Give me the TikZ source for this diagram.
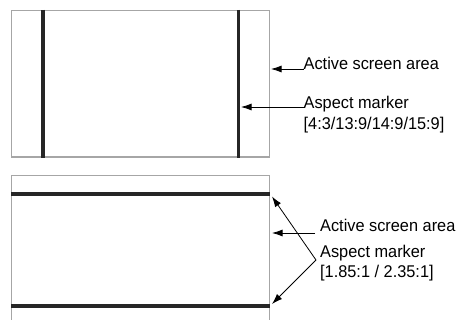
\documentclass[tikz,border=0pt]{standalone}
\usepackage{fontspec}
\setmainfont[FakeStretch=0.96]{Liberation Sans}
\usetikzlibrary{arrows.meta}
\begin{document}
\begin{tikzpicture}[x=1pt,y=-1pt,
  screen/.style={draw=black!35, line width=1.1pt},
  marker/.style={draw=black!85, line width=3.4pt},
  pointer/.style={-{Latex[length=10.5pt,width=7pt]}, line width=0.8pt},
  lbl/.style={font=\fontsize{17}{20}\selectfont, inner sep=0pt, anchor=base west}]
\clip (0,0) rectangle (458,320);
\fill[white] (0,0) rectangle (458,320);
% top screen
\draw[screen] (11.5,10.5) rectangle (269.5,157);
\draw[marker] (43,10) -- (43,158);
\draw[marker] (238.5,10) -- (238.5,158);
\node[lbl] (a1) at (303.5,70) {Active screen area};
\node[lbl] (a2) at (303.5,108.5) {Aspect marker};
\node[lbl] (a3) at (303.5,129.5) {{[}4:3/13:9/14:9/15:9{]}};
\coordinate (tipA1) at (271,69);
\coordinate (tipA2) at (241,107);
\draw[pointer] ([yshift=1pt]a1.base west) -- (tipA1);
\draw[pointer] ([yshift=1.5pt]a2.base west) -- (tipA2);
% bottom screen
\draw[screen] (11.5,330) -- (11.5,175.5) -- (269.5,175.5) -- (269.5,330);
\draw[marker] (11,194) -- (270,194);
\draw[marker] (11,306) -- (270,306);
\node[lbl] (b1) at (320,232) {Active screen area};
\node[lbl] (b2) at (320,258) {Aspect marker};
\node[lbl] (b3) at (320,277.5) {{[}1.85:1 / 2.35:1{]}};
\coordinate (tipB1) at (272,233);
\coordinate (apex) at ([xshift=-4pt,yshift=-2pt]b2.base west);
\coordinate (tipB2) at (272,196.5);
\coordinate (tipB3) at (272,304);
\draw[pointer] ([xshift=-5pt,yshift=-1pt]b1.base west) -- (tipB1);
\draw[pointer] (apex) -- (tipB2);
\draw[pointer] (apex) -- (tipB3);
\end{tikzpicture}
\end{document}
